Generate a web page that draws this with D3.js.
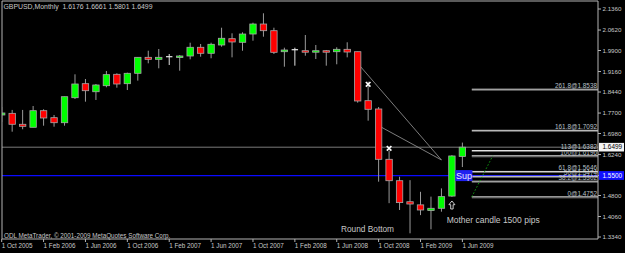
<!DOCTYPE html>
<html><head><meta charset="utf-8">
<script src="https://cdn.jsdelivr.net/npm/d3@7"></script>
<style>body{margin:0;background:#000;overflow:hidden}svg{display:block}</style>
</head><body><svg id="c" width="625" height="253"></svg>
<script>
// ---- data (GBPUSD monthly, Oct 2005 .. Jun 2009) ----
const months = ["Oct 2005","Nov 2005","Dec 2005","Jan 2006","Feb 2006","Mar 2006","Apr 2006","May 2006","Jun 2006","Jul 2006","Aug 2006","Sep 2006","Oct 2006","Nov 2006","Dec 2006","Jan 2007","Feb 2007","Mar 2007","Apr 2007","May 2007","Jun 2007","Jul 2007","Aug 2007","Sep 2007","Oct 2007","Nov 2007","Dec 2007","Jan 2008","Feb 2008","Mar 2008","Apr 2008","May 2008","Jun 2008","Jul 2008","Aug 2008","Sep 2008","Oct 2008","Nov 2008","Dec 2008","Jan 2009","Feb 2009","Mar 2009","Apr 2009","May 2009","Jun 2009"];
const open  = [1.7632,1.7690,1.7305,1.7199,1.7783,1.7537,1.7360,1.8240,1.8733,1.8450,1.8662,1.9063,1.8733,1.9098,1.9660,1.9590,1.9682,1.9663,1.9707,2.0013,1.9802,2.0094,2.0315,2.0189,2.0480,2.0832,2.0597,1.9858,1.9928,1.9893,1.9847,1.9893,1.9858,1.9942,1.9858,1.8135,1.7843,1.6073,1.5320,1.4580,1.4470,1.4270,1.4350,1.4780,1.6176];
const high  = [1.7913,1.7810,1.7810,1.7948,1.7832,1.7632,1.8275,1.9063,1.8898,1.8722,1.9180,1.9098,1.9120,1.9660,1.9893,1.9953,1.9777,1.9742,2.0175,2.0129,2.0175,2.0702,2.0505,2.0540,2.0878,2.1209,2.0702,1.9999,1.9999,2.0445,2.0094,1.9918,2.0013,2.0189,1.9858,1.8803,1.7913,1.6380,1.5460,1.5340,1.4930,1.4760,1.5050,1.6220,1.6661];
const low   = [1.7385,1.7044,1.7129,1.7199,1.7255,1.7220,1.7255,1.8194,1.8100,1.8160,1.8606,1.8592,1.8510,1.8840,1.9450,1.9274,1.9390,1.9190,1.9590,1.9682,1.9626,2.0034,1.9660,1.9893,2.0245,2.0386,1.9777,1.9330,1.9366,1.9717,1.9601,1.9366,1.9415,1.9660,1.8064,1.7431,1.5286,1.4530,1.4290,1.3470,1.4110,1.3610,1.4230,1.4750,1.5801];
const close = [1.7702,1.7305,1.7234,1.7783,1.7526,1.7360,1.8275,1.8722,1.8486,1.8687,1.9050,1.8722,1.9098,1.9660,1.9590,1.9660,1.9682,1.9707,2.0013,1.9802,2.0118,2.0330,2.0200,2.0480,2.0832,2.0597,1.9837,1.9918,1.9928,1.9847,1.9893,1.9847,1.9942,1.9847,1.8124,1.7832,1.6073,1.5320,1.4550,1.4500,1.4290,1.4350,1.4760,1.6190,1.6499];

const priceTicks = [2.1360,2.0620,1.9900,1.9160,1.8440,1.7700,1.6980,1.6240,1.5500,1.4800,1.4060,1.3340];
const dateTickIdx = [0,4,8,12,16,20,24,28,32,36,40,44];
const dateTickLabels = ["1 Oct 2005","1 Feb 2006","1 Jun 2006","1 Oct 2006","1 Feb 2007","1 Jun 2007","1 Oct 2007","1 Feb 2008","1 Jun 2008","1 Oct 2008","1 Feb 2009","1 Jun 2009"];

const fibLevels = ["0","38.2","50","61.8","100","113","161.8","261.8"];
const fibPrices = [1.4752,1.5302,1.5474,1.5646,1.6196,1.6382,1.7092,1.8538];
const fibAnchorT = [44.9, 46.9];
const fibAnchorP = [1.4752, 1.6196];

const trendA_T = [34, 42], trendA_P = [1.945, 1.605];
const trendB_T = [36, 42], trendB_P = [1.7255, 1.605];
const crossMarks_T = [35, 37], crossMarks_P = [1.871, 1.646];
const supportPrice = 1.5500;
const bidPrice = 1.6499;
const header = "GBPUSD,Monthly  1.6176 1.6661 1.5801 1.6499";

// ---- layout ----
const L = 2, R = 598, T = 1, B = 239;
const x = d3.scaleLinear().domain([0, 44]).range([1.7, 1.7 + 44 * 10.47]);
const y = d3.scaleLinear().domain([1.334, 2.136]).range([237, 9]);
const FONT = "'Liberation Sans', Arial, sans-serif";
const frameCol = "#b4b4b4", wickCol = "#9a9a9a", txtCol = "#c8c8c8";

const svg = d3.select("#c");
svg.append("rect").attr("width", 625).attr("height", 253).attr("fill", "#000");
svg.append("defs").append("clipPath").attr("id", "clip")
  .append("rect").attr("x", L).attr("y", T).attr("width", R - L).attr("height", B - T);

const plot = svg.append("g").attr("clip-path", "url(#clip)");

// bid line and support line
plot.append("line").attr("x1", L).attr("x2", R).attr("y1", y(bidPrice)).attr("y2", y(bidPrice))
  .attr("stroke", "#7a7a7a").attr("stroke-width", 1);
plot.append("line").attr("x1", L).attr("x2", R).attr("y1", y(supportPrice)).attr("y2", y(supportPrice))
  .attr("stroke", "#0a0aff").attr("stroke-width", 1.3);

// trend lines
[[trendA_T, trendA_P], [trendB_T, trendB_P]].forEach(([t, p]) => {
  plot.append("line").attr("x1", x(t[0])).attr("y1", y(p[0])).attr("x2", x(t[1])).attr("y2", y(p[1]))
    .attr("stroke", "#8a8a8a").attr("stroke-width", 0.9);
});

// candles
const bw = 6.4;
const idx = d3.range(open.length);
const cg = plot.append("g");
cg.selectAll("line.wick").data(idx).join("line").attr("class", "wick")
  .attr("x1", i => x(i)).attr("x2", i => x(i))
  .attr("y1", i => y(high[i])).attr("y2", i => y(low[i]))
  .attr("stroke", i => open[i] === close[i] ? "#e0e0e0" : wickCol).attr("stroke-width", 1);
cg.selectAll("rect.body").data(idx.filter(i => open[i] !== close[i])).join("rect").attr("class", "body")
  .attr("x", i => x(i) - bw / 2)
  .attr("y", i => y(Math.max(open[i], close[i])))
  .attr("width", bw)
  .attr("height", i => Math.max(1.5, Math.abs(y(open[i]) - y(close[i]))))
  .attr("fill", i => close[i] > open[i] ? "#00ff00" : "#ff0000")
  .attr("stroke", "#a8a8a8").attr("stroke-width", 0.8);
cg.selectAll("line.doji").data(idx.filter(i => open[i] === close[i])).join("line").attr("class", "doji")
  .attr("x1", i => x(i) - bw / 2).attr("x2", i => x(i) + bw / 2)
  .attr("y1", i => y(open[i])).attr("y2", i => y(open[i]))
  .attr("stroke", "#e8e8e8").attr("stroke-width", 1.2);

// fibonacci
const fx0 = x(fibAnchorT[0]);
fibPrices.forEach((p, k) => {
  plot.append("line").attr("x1", fx0).attr("x2", R).attr("y1", y(p)).attr("y2", y(p))
    .attr("stroke", "#e6e6e6").attr("stroke-width", 1);
  plot.append("line").attr("x1", fx0).attr("x2", R).attr("y1", y(p) + 1).attr("y2", y(p) + 1)
    .attr("stroke", "#8c8c8c").attr("stroke-width", 0.8);
  plot.append("text").attr("x", R - 1).attr("y", y(p) - 1.2).attr("text-anchor", "end")
    .attr("font-family", FONT).attr("font-size", 6.4).attr("fill", "#b8c0c8")
    .text(fibLevels[k] + "@" + p.toFixed(4));
});
plot.append("line").attr("x1", x(fibAnchorT[0])).attr("y1", y(fibAnchorP[0]))
  .attr("x2", x(fibAnchorT[1])).attr("y2", y(fibAnchorP[1]))
  .attr("stroke", "#10a010").attr("stroke-width", 1).attr("stroke-dasharray", "1.5,2");

// Sup label
const supX = x(43) + 3.5;
plot.append("rect").attr("x", supX).attr("y", y(supportPrice) - 5.5).attr("width", 17).attr("height", 11)
  .attr("fill", "#2020f0");
plot.append("text").attr("x", supX + 8.5).attr("y", y(supportPrice) + 3.3).attr("text-anchor", "middle")
  .attr("font-family", FONT).attr("font-size", 9).attr("fill", "#e8e8ff").text("Sup");

// cross marks
crossMarks_T.forEach((t, k) => {
  const cx = x(t), cy = y(crossMarks_P[k]);
  plot.append("path").attr("d", `M${cx-2.3},${cy-2.3}L${cx+2.3},${cy+2.3}M${cx-2.3},${cy+2.3}L${cx+2.3},${cy-2.3}`)
    .attr("stroke", "#ffffff").attr("stroke-width", 1.6);
});

// up arrow under mother candle
{
  const ax = x(43), ay = y(1.4466);
  const pts = [[0,-4],[-3,-0.3],[-1.2,-0.3],[-1.2,4],[1.2,4],[1.2,-0.3],[3,-0.3]];
  plot.append("path").attr("d", "M" + pts.map(p => (ax + p[0]) + "," + (ay + p[1])).join("L") + "Z")
    .attr("fill", "none").attr("stroke", "#e0e0e0").attr("stroke-width", 0.9);
}

// annotations
plot.append("text").attr("x", x(42.5)).attr("y", y(1.3833)).attr("font-family", FONT).attr("font-size", 8.5)
  .attr("fill", txtCol).text("Mother candle 1500 pips");
plot.append("text").attr("x", x(34.94)).attr("y", y(1.3516)).attr("text-anchor", "middle").attr("font-family", FONT)
  .attr("font-size", 8.3).attr("fill", txtCol).text("Round Bottom");

// header & copyright
svg.append("text").attr("x", 3.5).attr("y", 9).attr("font-family", FONT).attr("font-size", 6.9)
  .attr("fill", txtCol).attr("xml:space", "preserve").style("white-space", "pre").text(header);
svg.append("text").attr("x", 4).attr("y", 237.5).attr("font-family", FONT).attr("font-size", 6.3)
  .attr("fill", txtCol).text("ODL MetaTrader, © 2001-2009 MetaQuotes Software Corp.");

// frame
svg.append("path").attr("d", `M${L},${B}L${L},${T}L${R},${T}L${R},${B}L${L},${B}`)
  .attr("fill", "none").attr("stroke", frameCol).attr("stroke-width", 1);

// price axis
const pa = svg.append("g");
priceTicks.forEach(p => {
  pa.append("line").attr("x1", R).attr("x2", R + 3).attr("y1", y(p)).attr("y2", y(p)).attr("stroke", frameCol);
  pa.append("text").attr("x", R + 4.5).attr("y", y(p) + 2.2).attr("font-family", FONT).attr("font-size", 6.2)
    .attr("fill", txtCol).text(p.toFixed(4));
});
// bid box and support box
pa.append("rect").attr("x", R + 1).attr("y", y(bidPrice) - 4.3).attr("width", 25).attr("height", 8.6).attr("fill", "#f4f4f4");
pa.append("text").attr("x", R + 4.5).attr("y", y(bidPrice) + 2.3).attr("font-family", FONT).attr("font-size", 6.4)
  .attr("fill", "#000").text(bidPrice.toFixed(4));
pa.append("rect").attr("x", R + 1).attr("y", y(supportPrice) - 4.5).attr("width", 25).attr("height", 8.8).attr("fill", "#1010ff");
pa.append("text").attr("x", R + 4.5).attr("y", y(supportPrice) + 2.3).attr("font-family", FONT).attr("font-size", 6.4)
  .attr("fill", "#fff").text(supportPrice.toFixed(4));

// date axis
const da = svg.append("g");
dateTickIdx.forEach((i, k) => {
  da.append("line").attr("x1", x(i)).attr("x2", x(i)).attr("y1", B).attr("y2", B + 3).attr("stroke", frameCol);
  da.append("text").attr("x", x(i)).attr("y", 247.5).attr("font-family", FONT).attr("font-size", 6.3)
    .attr("fill", txtCol).text(dateTickLabels[k]);
});
</script></body></html>
